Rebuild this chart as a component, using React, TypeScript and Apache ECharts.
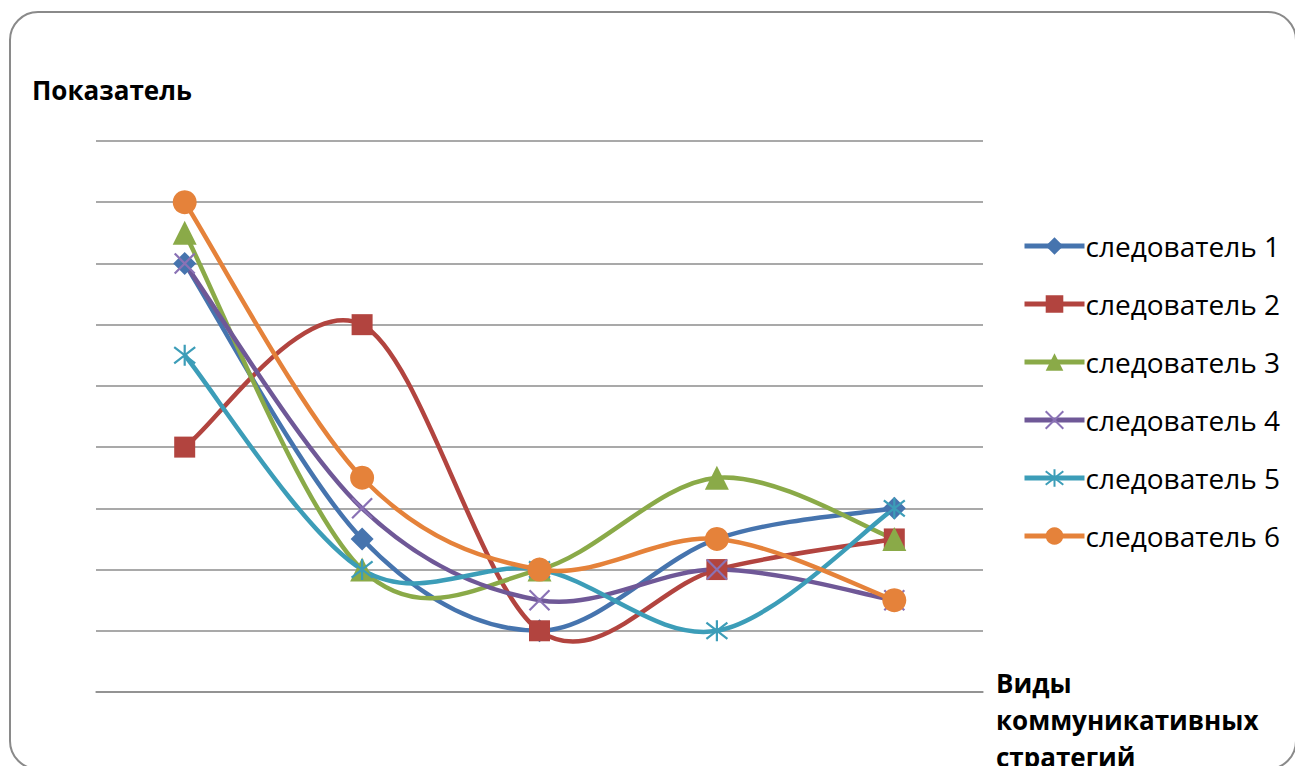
import React, { useEffect, useRef } from "react";
import * as echarts from "echarts";

const categories = ["1", "2", "3", "4", "5"];
const seriesNames = [
  "следователь 1",
  "следователь 2",
  "следователь 3",
  "следователь 4",
  "следователь 5",
  "следователь 6",
];
const s1 = [7, 2.5, 1, 2.5, 3];
const s2 = [4, 6, 1, 2, 2.5];
const s3 = [7.5, 2, 2, 3.5, 2.5];
const s4 = [7, 3, 1.5, 2, 1.5];
const s5 = [5.5, 2, 2, 1, 3];
const s6 = [8, 3.5, 2, 2.5, 1.5];
const seriesValues = [s1, s2, s3, s4, s5, s6];
const yTitle = "Показатель";
const xTitle = "Виды\nкоммуникативных\nстратегий";

const colors = ["#4674AE", "#B2443F", "#8AAA48", "#6F5897", "#3C9DB8", "#E5823A"];
const crossPath = "path://M0 0 L10 10 M10 0 L0 10";
const starPath = "path://M0 0 L10 10 M10 0 L0 10 M5 -1.5 L5 11.5";
const symbols = ["diamond", "rect", "triangle", crossPath, starPath, "circle"];
const symbolSizes = [23, 21, 24, 20, 21, 24];

function catmullPath(pts: number[][]): string {
  let d = `M${pts[0][0]} ${pts[0][1]}`;
  for (let i = 0; i < pts.length - 1; i++) {
    const p0 = pts[Math.max(0, i - 1)];
    const p1 = pts[i];
    const p2 = pts[i + 1];
    const p3 = pts[Math.min(pts.length - 1, i + 2)];
    const c1x = p1[0] + (p2[0] - p0[0]) / 6;
    const c1y = p1[1] + (p2[1] - p0[1]) / 6;
    const c2x = p2[0] - (p3[0] - p1[0]) / 6;
    const c2y = p2[1] - (p3[1] - p1[1]) / 6;
    d += ` C${c1x} ${c1y} ${c2x} ${c2y} ${p2[0]} ${p2[1]}`;
  }
  return d;
}

export default function App() {
  const ref = useRef<HTMLDivElement>(null);
  useEffect(() => {
    document.body.style.margin = "0";
    const chart = echarts.init(ref.current!, null, { renderer: "svg" });
    const font = "'Open Sans', 'Noto Sans', sans-serif";
    const curveSeries = seriesValues.map((vals, i) => ({
      type: "custom",
      name: "curve" + i,
      silent: true,
      z: 2,
      data: [[0, vals[0]]],
      encode: { x: 0, y: 1 },
      renderItem: (params: any, api: any) => {
        const pts = vals.map((v, k) => api.coord([k, v]));
        return {
          type: "path",
          z2: i,
          shape: { pathData: catmullPath(pts) },
          style: { fill: "none", stroke: colors[i], lineWidth: 4.5, lineJoin: "round" },
        };
      },
    }));
    const markerSeries = seriesNames.map((name, i) => {
      const isStroke = i === 3 || i === 4;
      return {
        name,
        type: "line",
        data: seriesValues[i],
        smooth: false,
        symbol: symbols[i],
        symbolSize: symbolSizes[i],
        showAllSymbol: true,
        lineStyle: { color: colors[i], width: 5, opacity: 0 },
        itemStyle: isStroke
          ? { color: "rgba(0,0,0,0)", borderColor: i === 3 ? "#8a72b5" : colors[i], borderWidth: 2.2 }
          : { color: colors[i], borderWidth: 0 },
        z: 3 + i,
      };
    });
    chart.setOption({
      animation: false,
      backgroundColor: "#ffffff",
      textStyle: { fontFamily: font },
      grid: { left: 96, right: 1295 - 983, top: 141, bottom: 766 - 692, containLabel: false },
      xAxis: {
        type: "category",
        data: categories,
        boundaryGap: true,
        axisLine: { show: true, lineStyle: { color: "#8c8c8c", width: 1.5 } },
        axisTick: { show: false },
        axisLabel: { show: false },
      },
      yAxis: {
        type: "value",
        min: 0,
        max: 9,
        interval: 1,
        axisLine: { show: false },
        axisTick: { show: false },
        axisLabel: { show: false },
        splitLine: { show: true, lineStyle: { color: "#8c8c8c", width: 1.5 } },
      },
      legend: {
        orient: "vertical",
        left: 1017,
        top: 227,
        itemWidth: 60,
        itemHeight: 22,
        itemGap: 30,
        lineStyle: { width: 5, opacity: 1 },
        textStyle: { fontSize: 28, color: "#000", fontFamily: font, padding: [0, 0, 0, -4] },
        data: seriesNames,
      },
      series: [...curveSeries, ...markerSeries],
      graphic: [
        {
          type: "rect",
          shape: { x: 10, y: 12, width: 1286, height: 757, r: 28 },
          style: { fill: "none", stroke: "#8a8a8a", lineWidth: 2 },
          silent: true,
          z: -1,
        },
        {
          type: "text",
          left: 32,
          top: 77,
          style: { text: yTitle, fill: "#000", font: `bold 26px ${font}` },
        },
        {
          type: "text",
          left: 996,
          top: 664,
          style: {
            text: xTitle,
            fill: "#000",
            font: `bold 26px ${font}`,
            lineHeight: 37,
          },
        },
      ],
    });
    return () => chart.dispose();
  }, []);
  return <div ref={ref} style={{ position: "absolute", left: 0, top: 0, width: 1295, height: 766 }} />;
}
